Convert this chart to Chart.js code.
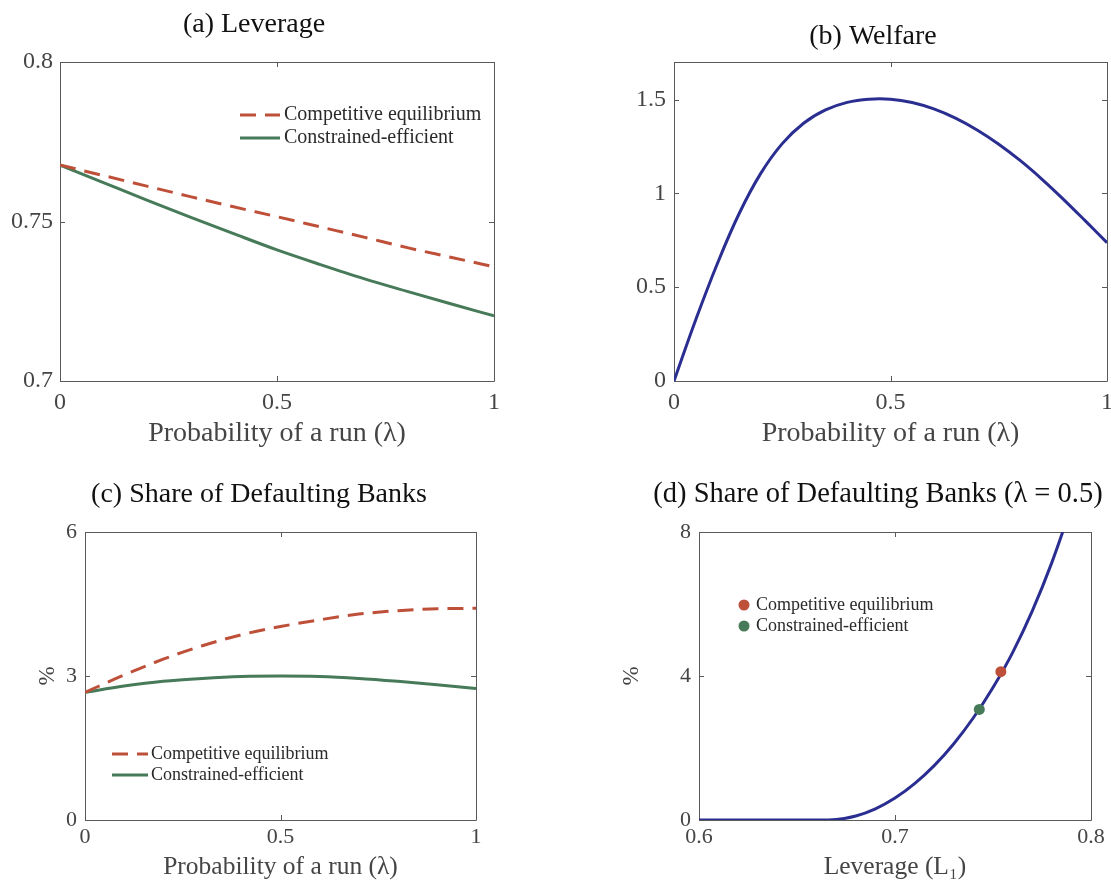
<!DOCTYPE html>
<html><head><meta charset="utf-8">
<script src="https://cdn.jsdelivr.net/npm/chart.js@4.4.1/dist/chart.umd.min.js"></script>
<style>
html,body{margin:0;padding:0;background:#fff;overflow:hidden;width:1111px;height:880px;}
canvas{position:absolute;display:block;}
</style></head><body>
<canvas id="ca" style="left:0;top:0;width:540px;height:450px" width="540" height="450"></canvas>
<canvas id="cb" style="left:560px;top:0;width:551px;height:450px" width="551" height="450"></canvas>
<canvas id="cc" style="left:0;top:440px;width:540px;height:440px" width="540" height="440"></canvas>
<canvas id="cd" style="left:560px;top:440px;width:551px;height:440px" width="551" height="440"></canvas>
<script>
// ---------- data ----------
const lambdaA = [0, 0.1, 0.2, 0.3, 0.4, 0.5, 0.6, 0.7, 0.8, 0.9, 1.0];
const levCompetitive = [0.7677, 0.7644, 0.7611, 0.7578, 0.7546, 0.7515, 0.7483, 0.7451, 0.7418, 0.7388, 0.7358];
const levConstrained = [0.7677, 0.7622, 0.7567, 0.7514, 0.7462, 0.7411, 0.7365, 0.7321, 0.7281, 0.7242, 0.7204];

const lambdaB = [0, 0.05, 0.1, 0.15, 0.2, 0.25, 0.3, 0.35, 0.4, 0.45, 0.5, 0.55, 0.6, 0.65, 0.7, 0.75, 0.8, 0.85, 0.9, 0.95, 1.0];
const welfare = [0, 0.325, 0.625, 0.89, 1.105, 1.265, 1.375, 1.445, 1.485, 1.502, 1.502, 1.484, 1.450, 1.401, 1.338, 1.262, 1.174, 1.075, 0.967, 0.853, 0.737];

const lambdaC = [0, 0.1, 0.2, 0.3, 0.4, 0.5, 0.6, 0.7, 0.8, 0.9, 1.0];
const defCompetitive = [2.66, 3.02, 3.35, 3.63, 3.86, 4.03, 4.17, 4.29, 4.36, 4.40, 4.41];
const defConstrained = [2.66, 2.79, 2.89, 2.95, 2.99, 3.00, 2.99, 2.95, 2.89, 2.82, 2.74];

const leverageD = [0.60, 0.62, 0.64, 0.66, 0.67, 0.68, 0.69, 0.70, 0.71, 0.72, 0.73, 0.74, 0.75, 0.76, 0.77, 0.78, 0.79];
const defaultShareD = [0, 0, 0, 0, 0.015, 0.11, 0.31, 0.61, 1.01, 1.51, 2.12, 2.84, 3.68, 4.65, 5.80, 7.15, 8.70];
const pointCompetitive = [0.754, 4.12];
const pointConstrained = [0.743, 3.07];

const ticksAX = [0, 0.5, 1],   ticksAY = [0.7, 0.75, 0.8];
const ticksBX = [0, 0.5, 1],   ticksBY = [0, 0.5, 1, 1.5];
const ticksCX = [0, 0.5, 1],   ticksCY = [0, 3, 6];
const ticksDX = [0.6, 0.7, 0.8], ticksDY = [0, 4, 8];

const labelComp = 'Competitive equilibrium';
const labelCons = 'Constrained-efficient';
const xTitleRun = 'Probability of a run (λ)';

// ---------- styles ----------
const RED = '#BE503A', GREEN = '#467A58', BLUE = '#2B2E91';
const AXIS = '#5a5a5a', TICKTXT = '#454545';
const SERIF = "'Liberation Serif', 'DejaVu Serif', serif";
Chart.defaults.font.family = SERIF;

const pairs = (xs, ys) => xs.map((x, i) => ({x: x, y: ys[i]}));

const boxPlugin = {
  id: 'matlabBox',
  beforeDatasetsDraw(chart) {
    const {ctx, chartArea: a, scales} = chart;
    const L = 5;
    ctx.save();
    ctx.strokeStyle = AXIS; ctx.lineWidth = 1;
    ctx.beginPath();
    ctx.rect(a.left + 0.5, a.top + 0.5, a.right - a.left, a.bottom - a.top);
    scales.x.ticks.forEach(t => {
      const p = Math.round(scales.x.getPixelForValue(t.value)) + 0.5;
      ctx.moveTo(p, a.bottom); ctx.lineTo(p, a.bottom - L);
      ctx.moveTo(p, a.top); ctx.lineTo(p, a.top + L);
    });
    scales.y.ticks.forEach(t => {
      const p = Math.round(scales.y.getPixelForValue(t.value)) + 0.5;
      ctx.moveTo(a.left, p); ctx.lineTo(a.left + L, p);
      ctx.moveTo(a.right, p); ctx.lineTo(a.right - L, p);
    });
    ctx.stroke();
    ctx.restore();
  }
};

const titlePlugin = {
  id: 'panelTitle',
  afterDraw(chart, args, o) {
    const ctx = chart.ctx;
    ctx.save();
    ctx.font = o.font; ctx.fillStyle = '#111'; ctx.textAlign = 'center'; ctx.textBaseline = 'middle';
    ctx.fillText(o.text, o.x, o.y);
    ctx.restore();
  }
};

const legendPlugin = {
  id: 'insideLegend',
  afterDatasetsDraw(chart, args, o) {
    const ctx = chart.ctx;
    ctx.save();
    ctx.font = o.font; ctx.textBaseline = 'middle'; ctx.textAlign = 'left';
    let row = 0;
    chart.data.datasets.forEach(ds => {
      if (!ds.label) return;
      const y = o.y + row * o.gap;
      if (ds.showLine === false) {
        ctx.fillStyle = ds.pointBackgroundColor;
        ctx.beginPath(); ctx.arc(o.sampleX, y, ds.pointRadius, 0, Math.PI * 2); ctx.fill();
      } else {
        ctx.strokeStyle = ds.borderColor; ctx.lineWidth = ds.borderWidth;
        ctx.setLineDash(ds.borderDash || []);
        ctx.beginPath(); ctx.moveTo(o.sampleX, y); ctx.lineTo(o.sampleX + o.sampleW, y); ctx.stroke();
        ctx.setLineDash([]);
      }
      ctx.fillStyle = '#2a2a2a';
      ctx.fillText(ds.label, o.textX, y);
      row++;
    });
    ctx.restore();
  }
};

function axis(o) {
  return {
    type: 'linear', min: o.min, max: o.max,
    afterBuildTicks: s => { s.ticks = o.ticks.map(v => ({value: v})); },
    ticks: {callback: v => String(v), font: {size: o.tickSize}, color: TICKTXT,
            padding: o.pad, autoSkip: false, maxRotation: 0, minRotation: 0},
    grid: {display: false, drawTicks: false},
    border: {display: false},
    title: o.title ? {display: true, text: o.title, color: TICKTXT,
                      font: {size: o.titleSize, lineHeight: 1}, padding: o.titlePad} : {display: false},
    afterFit: s => {
      if (o.w !== undefined) s.width = o.w;
      if (o.h !== undefined) s.height = o.h;
      s.paddingLeft = 0; s.paddingRight = 0; s.paddingTop = 0; s.paddingBottom = 0;
    }
  };
}

function makeChart(id, datasets, cfg) {
  return new Chart(document.getElementById(id), {
    type: 'line',
    data: {datasets: datasets},
    options: {
      responsive: false, animation: false, events: [],
      layout: {padding: cfg.padding},
      scales: {x: axis(cfg.x), y: axis(cfg.y)},
      elements: {point: {radius: 0}, line: {tension: 0}},
      plugins: {
        legend: {display: false}, tooltip: {enabled: false}, title: {display: false},
        panelTitle: cfg.title,
        insideLegend: cfg.legend || {font: '1px serif', y: -100, gap: 0, sampleX: 0, sampleW: 0, textX: 0}
      }
    },
    plugins: [boxPlugin, titlePlugin, legendPlugin]
  });
}

const lineDs = (label, xs, ys, color, dash) => ({
  label: label, data: pairs(xs, ys), borderColor: color, borderWidth: 3,
  borderDash: dash || [], cubicInterpolationMode: 'monotone', fill: false, pointRadius: 0
});

// (a) Leverage
makeChart('ca', [
  lineDs(labelComp, lambdaA, levCompetitive, RED, [16, 9]),
  lineDs(labelCons, lambdaA, levConstrained, GREEN)
], {
  padding: {left: 0, right: 46, top: 62, bottom: 0},
  x: {min: 0, max: 1, ticks: ticksAX, tickSize: 24, pad: 7, h: 69, title: xTitleRun, titleSize: 28, titlePad: {top: 0, bottom: 2}},
  y: {min: 0.7, max: 0.8, ticks: ticksAY, tickSize: 24, pad: 7, w: 60},
  title: {text: '(a) Leverage', x: 254, y: 25, font: '28px ' + SERIF},
  legend: {font: '20px ' + SERIF, sampleX: 240, sampleW: 40, textX: 284, y: 115, gap: 23}
});

// (b) Welfare
const welfareDs = lineDs('', lambdaB, welfare, BLUE);
welfareDs.cubicInterpolationMode = 'default';
welfareDs.tension = 0.4;
makeChart('cb', [welfareDs], {
  padding: {left: 0, right: 4, top: 62, bottom: 0},
  x: {min: 0, max: 1, ticks: ticksBX, tickSize: 24, pad: 7, h: 69, title: xTitleRun, titleSize: 28, titlePad: {top: 0, bottom: 2}},
  y: {min: 0, max: 1.7, ticks: ticksBY, tickSize: 24, pad: 8, w: 114},
  title: {text: '(b) Welfare', x: 313, y: 37, font: '28px ' + SERIF}
});

// (c) Share of defaulting banks
makeChart('cc', [
  lineDs(labelComp, lambdaC, defCompetitive, RED, [16, 9]),
  lineDs(labelCons, lambdaC, defConstrained, GREEN)
], {
  padding: {left: 0, right: 64, top: 92, bottom: 0},
  x: {min: 0, max: 1, ticks: ticksCX, tickSize: 22, pad: 4, h: 60, title: xTitleRun, titleSize: 25.5, titlePad: {top: 0, bottom: 0.3}},
  y: {min: 0, max: 6, ticks: ticksCY, tickSize: 22, pad: 8, w: 85, title: '%', titleSize: 23, titlePad: {top: 36.5, bottom: 0}},
  title: {text: '(c) Share of Defaulting Banks', x: 259, y: 55, font: '28px ' + SERIF},
  legend: {font: '18px ' + SERIF, sampleX: 112, sampleW: 36, textX: 151, y: 314, gap: 21}
});

// (d) Share of defaulting banks vs leverage
makeChart('cd', [
  {label: labelComp, data: [{x: pointCompetitive[0], y: pointCompetitive[1]}], showLine: false,
   pointRadius: 5.5, pointBackgroundColor: RED, pointBorderWidth: 0, borderColor: RED},
  {label: labelCons, data: [{x: pointConstrained[0], y: pointConstrained[1]}], showLine: false,
   pointRadius: 5.5, pointBackgroundColor: GREEN, pointBorderWidth: 0, borderColor: GREEN},
  lineDs('', leverageD, defaultShareD, BLUE)
], {
  padding: {left: 0, right: 20, top: 92, bottom: 0},
  x: {min: 0.6, max: 0.8, ticks: ticksDX, tickSize: 22, pad: 4, h: 60, title: 'Leverage (L₁)', titleSize: 25.5, titlePad: {top: 0, bottom: 0.3}},
  y: {min: 0, max: 8, ticks: ticksDY, tickSize: 22, pad: 8, w: 139, title: '%', titleSize: 23, titlePad: {top: 60.5, bottom: 0}},
  title: {text: '(d) Share of Defaulting Banks (λ = 0.5)', x: 318, y: 55, font: '28.5px ' + SERIF},
  legend: {font: '18px ' + SERIF, sampleX: 184, sampleW: 0, textX: 196, y: 165, gap: 21}
});
</script>
</body></html>
